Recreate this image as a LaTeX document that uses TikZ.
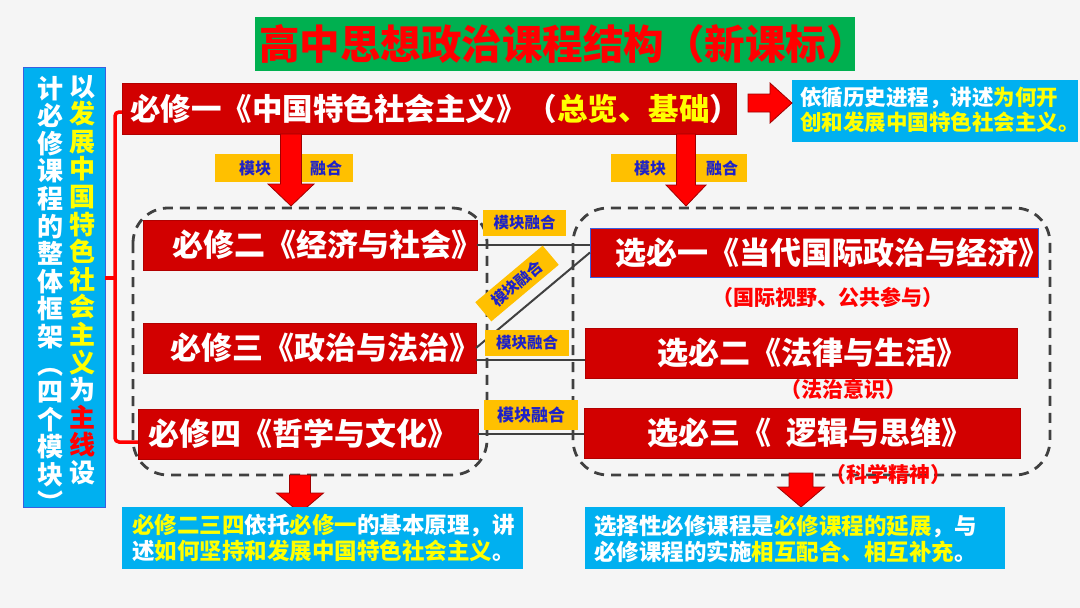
\documentclass[tikz,border=0pt]{standalone}
\usepackage{fontspec}
\setmainfont{Noto Sans CJK SC}
\definecolor{bg}{HTML}{F5F5F5}
\definecolor{tgreen}{HTML}{00B050}
\definecolor{cred}{HTML}{D20000}
\definecolor{cblue}{HTML}{00B0F0}
\definecolor{corange}{HTML}{FFC000}
\definecolor{cnavy}{HTML}{1E22C8}
\definecolor{cgray}{HTML}{404040}
\definecolor{cyel}{HTML}{FFFF00}
\definecolor{arrred}{HTML}{FF0000}
\definecolor{arrdark}{HTML}{A00000}
\definecolor{bordblue}{HTML}{3A5FE0}
\newcommand\mydarr[6]{% cx, top, headstart, tip, shafthalf, headhalf
  \filldraw[blockarr] (#1-#5,#2) -- (#1+#5,#2) -- (#1+#5,#3) -- (#1+#6,#3) -- (#1,#4) -- (#1-#6,#3) -- (#1-#5,#3) -- cycle;}
\tikzset{
  redbox/.style={fill=cred, draw=cred!85!black, line width=0.6pt, inner sep=0, outer sep=0},
  boxtext/.style={text=white, font=\fontsize{31}{36}\selectfont\bfseries, inner sep=0, anchor=west},
  sublabel/.style={text=arrred, font=\fontsize{21}{25}\selectfont\bfseries, inner sep=0},
  mlabel/.style={fill=corange, text=cnavy, font=\fontsize{15.5}{18}\selectfont\bfseries, inner sep=0, outer sep=0},
  bluebox/.style={fill=cblue, inner sep=0, outer sep=0},
  bluetext/.style={text=white, font=\fontsize{22.5}{26}\selectfont\bfseries, inner sep=0, anchor=west, align=left},
  dashbox/.style={draw=cgray, dash pattern=on 10pt off 7pt, line width=2.8pt, rounded corners=35pt},
  conn/.style={draw=cgray, line width=2pt},
  bracepath/.style={draw=arrred, line width=3.5pt},
  blockarr/.style={fill=arrred, draw=arrdark, line width=0.8pt},
}
\begin{document}
\begin{tikzpicture}[x=1pt,y=-1pt]
\path[fill=bg, use as bounding box] (0,0) rectangle (1080,608);

% title
\node[fill=tgreen, minimum width=600pt, minimum height=54pt, inner sep=0] (title) at (555,44) {};
\node[text=arrred, font=\fontsize{40.5}{46}\selectfont\bfseries, inner sep=0] (titletext) at (563,44) {高中思想政治课程结构（新课标）};

% left vertical box
\node[bluebox, draw=bordblue, line width=1pt, minimum width=82pt, minimum height=440pt] (lb) at (64,287) {};
\node[text=white, font=\fontsize{26}{27.6}\selectfont\bfseries, inner sep=0, align=center] (lbr) at (82,280)
 {以\\{\color{cyel}发}\\{\color{cyel}展}\\{\color{cyel}中}\\{\color{cyel}国}\\{\color{cyel}特}\\{\color{cyel}色}\\{\color{cyel}社}\\{\color{cyel}会}\\{\color{cyel}主}\\{\color{cyel}义}\\为\\{\color{arrred}主}\\{\color{arrred}线}\\设};
\node[text=white, font=\fontsize{26}{27.6}\selectfont\bfseries, inner sep=0, align=center] (lbl) at (50,294)
 {计\\必\\修\\课\\程\\的\\整\\体\\框\\架\\︵\\四\\个\\模\\块\\︶};

% red top box
\node[redbox, minimum width=614pt, minimum height=51pt] (b1) at (429,108.5) {};
\node[boxtext, font=\fontsize{30.5}{36}\selectfont\bfseries] (b1t) at ([xshift=8pt]b1.west) {必修一《中国特色社会主义》（{\color{cyel}总览、基础}）};

% bottom-left group box (needed for the brace)
\node[redbox, minimum width=340pt, minimum height=50pt] (b4) at (308,434) {};

% brace
\draw[bracepath, rounded corners=4pt] ([yshift=-3.5pt]b1.west) -- (115,112) -- (115,442) -- ([yshift=-8pt,xshift=2pt]b4.west);
\draw[bracepath] (115,278) -- (lb.east |- 0,278);

% right arrow and blue box
\node[bluebox, minimum width=286pt, minimum height=62pt] (rb) at (935,111) {};
\filldraw[blockarr] (748,94) -- (770,94) -- (770,83) -- (rb.west |- 0,103) -- (770,123) -- (770,112) -- (748,112) -- cycle;
\node[bluetext, font=\fontsize{21.5}{25}\selectfont\bfseries] (rbt) at (800,110) {依循历史进程，讲述{\color{cyel}为何开}\\{\color{cyel}创和发展中国特色社会主义。}};

% top module labels and arrows
\node[mlabel, minimum width=138pt, minimum height=28pt] (ml1) at (284,168) {};
\node[text=cnavy, font=\fontsize{16}{18}\selectfont\bfseries, inner sep=0] (ml1a) at (255,168) {模块};
\node[text=cnavy, font=\fontsize{16}{18}\selectfont\bfseries, inner sep=0] (ml1b) at (326,168) {融合};
\node[mlabel, minimum width=136pt, minimum height=28pt] (ml2) at (679,168) {};
\node[text=cnavy, font=\fontsize{16}{18}\selectfont\bfseries, inner sep=0] (ml2a) at (650,168) {模块};
\node[text=cnavy, font=\fontsize{16}{18}\selectfont\bfseries, inner sep=0] (ml2b) at (722,168) {融合};
\mydarr{291}{134}{184}{206}{10.5}{23}
\mydarr{686}{134}{185}{206}{9.5}{20}

% dashed groups
\draw[dashbox] (133,208) rectangle (487,475);
\draw[dashbox] (573,208) rectangle (1050,475);

\node[redbox, minimum width=334pt, minimum height=50pt] (b2) at (310,245) {};
\node[redbox, minimum width=333pt, minimum height=50pt] (b3) at (309.5,348) {};
\node[redbox, minimum width=340pt, minimum height=50pt] (b4b) at (b4) {};
\node[redbox, draw=bordblue, minimum width=448pt, minimum height=49pt] (s1) at (814,252.5) {};
\node[redbox, minimum width=432pt, minimum height=50pt] (s2) at (801,353) {};
\node[redbox, minimum width=436pt, minimum height=50pt] (s3) at (802,433) {};

% connectors
\draw[conn] (b2.east) -- (b2.east -| s1.west);
\draw[conn] (b3.east) -- (s1.west);
\draw[conn] ([yshift=-12pt]b3.east) -- ([yshift=-12pt]b3.east -| s2.west);
\draw[conn] (b4.east) -- (b4.east -| s3.west);

\node[boxtext] (b2t) at ([xshift=29pt]b2.west) {必修二《经济与社会》};
\node[boxtext] (b3t) at ([xshift=27pt]b3.west) {必修三《政治与法治》};
\node[boxtext] (b4t) at ([xshift=10pt]b4.west) {必修四《哲学与文化》};
\node[boxtext] (s1t) at ([xshift=25pt]s1.west) {选必一《当代国际政治与经济》};
\node[boxtext] (s2t) at ([xshift=72pt]s2.west) {选必二《法律与生活》};
\node[boxtext] (s3t) at ([xshift=63pt]s3.west) {选必三《\hspace{0.5em}逻辑与思维》};

\node[sublabel] (s1s) at (828,297) {（国际视野、公共参与）};
\node[sublabel] (s2s) at (843,389) {（法治意识）};

% connector labels
\node[mlabel, minimum width=83pt, minimum height=26pt] (c1) at (524.5,223) {模块融合};
\node[mlabel, minimum width=88pt, minimum height=25pt, rotate=40] (c2) at (517,283.5) {模块融合};
\node[mlabel, minimum width=84pt, minimum height=26pt] (c3) at (527,343) {模块融合};
\node[mlabel, minimum width=94pt, minimum height=30pt, font=\fontsize{17}{20}\selectfont\bfseries] (c4) at (531,415) {模块融合};

% bottom arrows
\mydarr{300}{475}{493}{513}{10.5}{23.5}
\mydarr{801}{473}{487}{507}{12}{23.5}
\node[sublabel] (s3s) at (888,474) {（科学精神）};

% bottom boxes
\node[bluebox, minimum width=401pt, minimum height=62pt] (bl) at (322.5,538) {};
\node[bluetext] (blt) at (132,537.5) {{\color{cyel}必修二三四}依托{\color{cyel}必修一}的基本原理，讲\\述{\color{cyel}如何坚持和发展中国特色社会主义}。};
\node[bluebox, minimum width=420pt, minimum height=62pt] (br) at (795,538) {};
\node[bluetext] (brt) at (594,538.5) {选择性必修课程是{\color{cyel}必修课程的延展}，与\\必修课程的实施{\color{cyel}相互配合、相互补充}。};
\end{tikzpicture}
\end{document}
